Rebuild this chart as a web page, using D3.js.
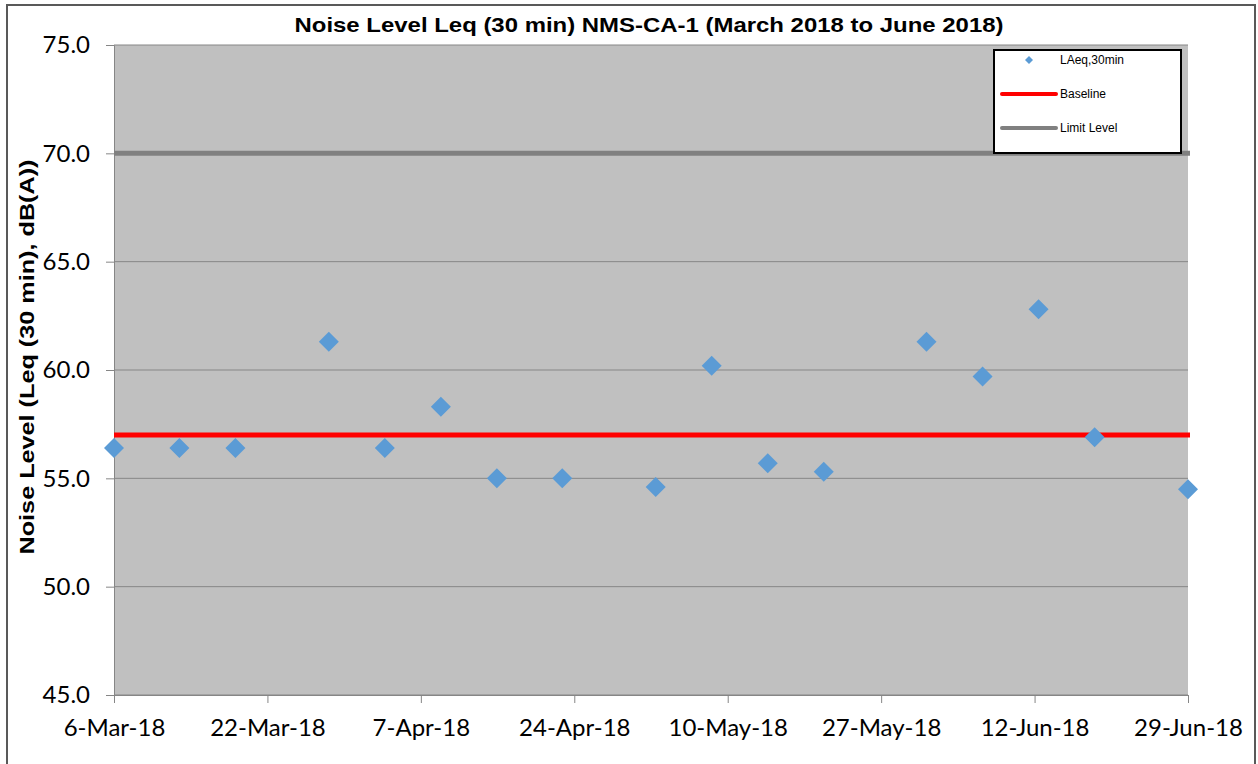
<!DOCTYPE html>
<html>
<head>
<meta charset="utf-8">
<script src="https://cdn.jsdelivr.net/npm/d3@7"></script>
<style>
  html, body { margin: 0; padding: 0; background: #ffffff; }
  svg { display: block; }
</style>
</head>
<body>
<svg id="chart" width="1258" height="764"></svg>
<script>
// Measurement dates (30-minute Leq readings at NMS-CA-1)
const dates = [
  "2018-03-06", "2018-03-13", "2018-03-19", "2018-03-29", "2018-04-04",
  "2018-04-10", "2018-04-16", "2018-04-23", "2018-05-03", "2018-05-09",
  "2018-05-15", "2018-05-21", "2018-06-01", "2018-06-07", "2018-06-13",
  "2018-06-19", "2018-06-29"
];
// LAeq,30min readings, dB(A)
const laeq = [
  56.4, 56.4, 56.4, 61.3, 56.4,
  58.3, 55.0, 55.0, 54.6, 60.2,
  55.7, 55.3, 61.3, 59.7, 62.8,
  56.9, 54.5
];
const baseline = 57.0;
const limitLevel = 70.0;

const xRange = ["2018-03-06", "2018-06-29"];
const xTickLabels = ["6-Mar-18", "22-Mar-18", "7-Apr-18", "24-Apr-18", "10-May-18", "27-May-18", "12-Jun-18", "29-Jun-18"];
const yTicks = [45, 50, 55, 60, 65, 70, 75];

const titleText = "Noise Level Leq (30 min) NMS-CA-1 (March 2018 to June 2018)";
const yTitle = "Noise Level (Leq (30 min), dB(A))";
const legendLabels = ["LAeq,30min", "Baseline", "Limit Level"];

const svg = d3.select("#chart");
const parse = d3.utcParse("%Y-%m-%d");

const plot = { left: 114, right: 1188, top: 45, bottom: 695 };

const x = d3.scaleUtc()
  .domain(xRange.map(parse))
  .range([plot.left, plot.right]);
const y = d3.scaleLinear()
  .domain([45, 75])
  .range([plot.bottom, plot.top]);

const tickFont = "Lato, 'Open Sans', sans-serif";
const titleFont = "'Liberation Sans', Arial, sans-serif";

// Outer chart frame
svg.append("rect")
  .attr("x", 7).attr("y", 5)
  .attr("width", 1248).attr("height", 780)
  .attr("fill", "#ffffff")
  .attr("stroke", "#595959").attr("stroke-width", 2);

// Plot area
svg.append("rect")
  .attr("x", plot.left).attr("y", plot.top)
  .attr("width", plot.right - plot.left).attr("height", plot.bottom - plot.top)
  .attr("fill", "#c0c0c0");

// Horizontal gridlines
svg.append("g")
  .selectAll("line")
  .data(yTicks)
  .join("line")
  .attr("x1", plot.left).attr("x2", plot.right)
  .attr("y1", d => y(d)).attr("y2", d => y(d))
  .attr("stroke", "#868686").attr("stroke-width", 1);

// Y axis
const yAxis = d3.axisLeft(y)
  .tickValues(yTicks)
  .tickFormat(d3.format(".1f"))
  .tickSize(8)
  .tickPadding(16);
const gy = svg.append("g")
  .attr("transform", `translate(${plot.left},0)`)
  .call(yAxis);
gy.select(".domain").attr("stroke", "#868686");
gy.selectAll(".tick line").attr("stroke", "#868686");
gy.selectAll(".tick text")
  .attr("font-family", tickFont)
  .attr("font-size", 24)
  .attr("fill", "#000");

// X axis: eight evenly spaced major ticks across the date range
const [d0, d1] = x.domain();
const xTickVals = xTickLabels.map((_, i) => new Date(+d0 + i * (d1 - d0) / (xTickLabels.length - 1)));
const xAxis = d3.axisBottom(x)
  .tickValues(xTickVals)
  .tickFormat((d, i) => xTickLabels[i])
  .tickSize(8)
  .tickPadding(16);
const gx = svg.append("g")
  .attr("transform", `translate(0,${plot.bottom})`)
  .call(xAxis);
gx.select(".domain").attr("stroke", "#868686");
gx.selectAll(".tick line").attr("stroke", "#868686");
gx.selectAll(".tick text")
  .attr("font-family", tickFont)
  .attr("font-size", 24)
  .attr("fill", "#000");

// Limit level and baseline reference lines
svg.append("line")
  .attr("x1", x(d0)).attr("x2", x(d1) + 2)
  .attr("y1", y(limitLevel)).attr("y2", y(limitLevel))
  .attr("stroke", "#808080").attr("stroke-width", 5);
svg.append("line")
  .attr("x1", x(d0)).attr("x2", x(d1) + 2)
  .attr("y1", y(baseline)).attr("y2", y(baseline))
  .attr("stroke", "#ff0000").attr("stroke-width", 5);

// LAeq readings as diamond markers
const diamond = s => `M0,${-s}L${s},0L0,${s}L${-s},0Z`;
svg.append("g")
  .selectAll("path")
  .data(dates.map((d, i) => ({ date: parse(d), v: laeq[i] })))
  .join("path")
  .attr("d", diamond(10))
  .attr("transform", d => `translate(${x(d.date)},${y(d.v)})`)
  .attr("fill", "#5b9bd5");

// Title
svg.append("text")
  .attr("x", 649).attr("y", 32)
  .attr("text-anchor", "middle")
  .attr("font-family", titleFont)
  .attr("font-weight", "bold")
  .attr("font-size", 21)
  .attr("textLength", 709)
  .attr("lengthAdjust", "spacingAndGlyphs")
  .text(titleText);

// Y axis title
svg.append("text")
  .attr("transform", `translate(34,357) rotate(-90)`)
  .attr("text-anchor", "middle")
  .attr("font-family", titleFont)
  .attr("font-weight", "bold")
  .attr("font-size", 21)
  .attr("textLength", 395)
  .attr("lengthAdjust", "spacingAndGlyphs")
  .text(yTitle);

// Legend
const lg = svg.append("g");
lg.append("rect")
  .attr("x", 994).attr("y", 50)
  .attr("width", 187).attr("height", 103)
  .attr("fill", "#ffffff")
  .attr("stroke", "#000").attr("stroke-width", 2);
const rowY = [60, 94, 128];
lg.append("path")
  .attr("d", diamond(4))
  .attr("transform", `translate(1029,${rowY[0]})`)
  .attr("fill", "#5b9bd5");
lg.append("line")
  .attr("x1", 1002).attr("x2", 1056)
  .attr("y1", rowY[1]).attr("y2", rowY[1])
  .attr("stroke", "#ff0000").attr("stroke-width", 4).attr("stroke-linecap", "round");
lg.append("line")
  .attr("x1", 1002).attr("x2", 1056)
  .attr("y1", rowY[2]).attr("y2", rowY[2])
  .attr("stroke", "#808080").attr("stroke-width", 4).attr("stroke-linecap", "round");
lg.selectAll("text.lbl")
  .data(legendLabels)
  .join("text")
  .attr("class", "lbl")
  .attr("x", 1060)
  .attr("y", (d, i) => rowY[i] + 4)
  .attr("font-family", titleFont)
  .attr("font-size", 12)
  .attr("fill", "#000")
  .text(d => d);
</script>
</body>
</html>
